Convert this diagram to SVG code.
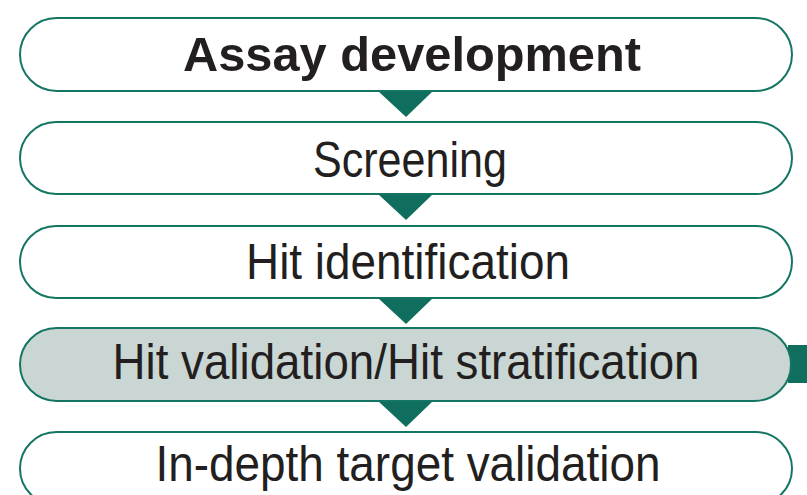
<svg xmlns="http://www.w3.org/2000/svg" width="807" height="495" viewBox="0 0 807 495">
<style>
.box{fill:#ffffff;stroke:#157563;stroke-width:2}
.hl{fill:#c9d6d3}
.t{font-family:"Liberation Sans",Arial,sans-serif;fill:#231f20;text-anchor:middle;font-size:50px}
.arr{fill:#0f6e5e}
</style>
<rect x="0" y="0" width="807" height="495" fill="#ffffff"/>
<g id="connectors">
<polygon class="arr" points="378,91 433,91 406,117"/>
<polygon class="arr" points="378,194 433,194 406,220"/>
<polygon class="arr" points="378,298 433,298 406,324"/>
<polygon class="arr" points="378,401 433,401 406,427"/>
<rect class="arr" x="788" y="345" width="19" height="38"/>
</g>
<g id="node-assay">
<rect class="box" x="20" y="18" width="772" height="73" rx="36.5"/>
<text class="t" x="412" y="71" style="font-size:48px" font-weight="bold" textLength="458" lengthAdjust="spacingAndGlyphs">Assay development</text>
</g>
<g id="node-screening">
<rect class="box" x="20" y="122" width="772" height="72" rx="36"/>
<text class="t" x="410" y="177" textLength="194" lengthAdjust="spacingAndGlyphs">Screening</text>
</g>
<g id="node-hitid">
<rect class="box" x="20" y="226" width="772" height="72" rx="36"/>
<text class="t" x="408" y="279" textLength="324" lengthAdjust="spacingAndGlyphs">Hit identification</text>
</g>
<g id="node-hitval">
<rect class="box hl" x="20" y="328" width="771" height="73" rx="36.5"/>
<text class="t" x="406" y="379" textLength="587" lengthAdjust="spacingAndGlyphs">Hit validation/Hit stratification</text>
</g>
<g id="node-indepth">
<rect class="box" x="20" y="432" width="772" height="73" rx="36.5"/>
<text class="t" x="408" y="481" textLength="505" lengthAdjust="spacingAndGlyphs">In-depth target validation</text>
</g>
</svg>
